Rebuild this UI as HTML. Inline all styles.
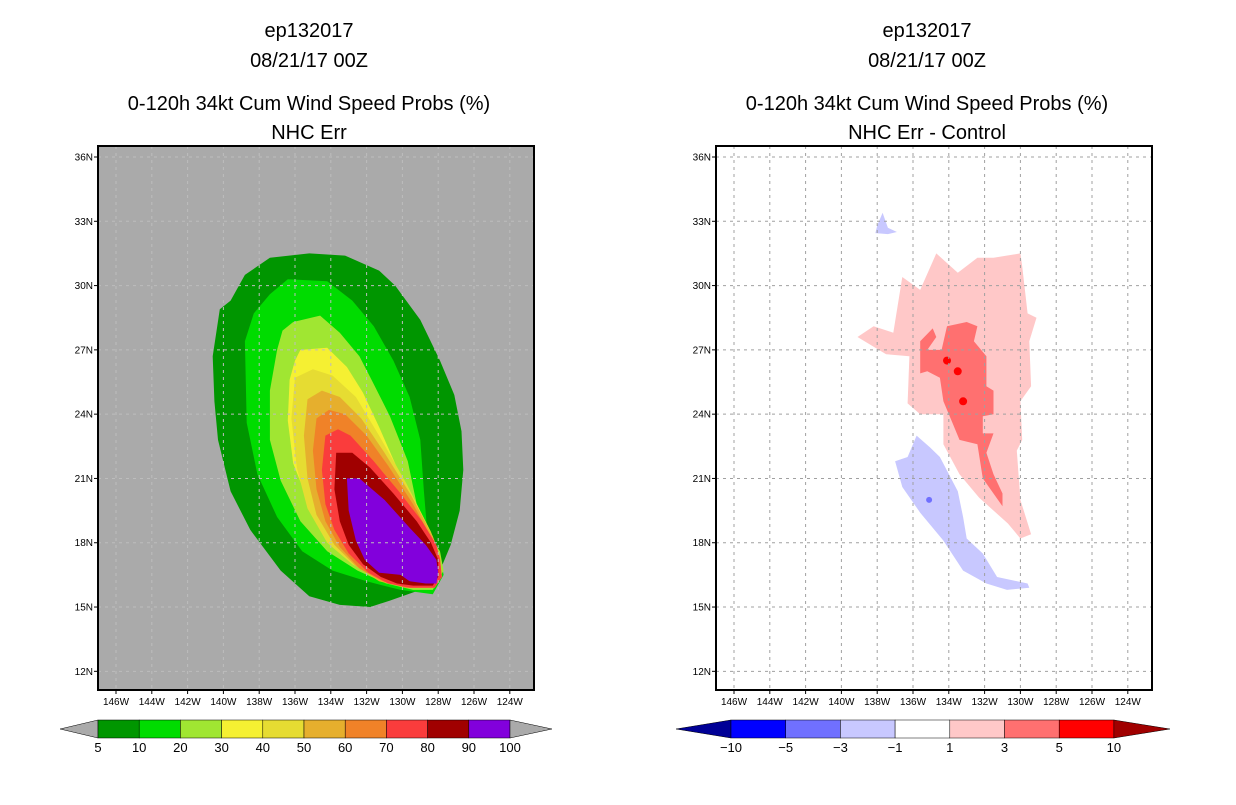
<!DOCTYPE html>
<html><head><meta charset="utf-8"><style>
body{margin:0;background:#fff;width:1236px;height:800px;overflow:hidden}
svg text{font-family:"Liberation Sans",sans-serif}
</style></head><body>
<svg id="s" width="1236" height="800">
<g font-size="20" text-anchor="middle" fill="#000">
<text x="309" y="37">ep132017</text><text x="309" y="67">08/21/17 00Z</text>
<text x="309" y="110">0-120h 34kt Cum Wind Speed Probs (%)</text><text x="309" y="139">NHC Err</text></g>
<g font-size="20" text-anchor="middle" fill="#000">
<text x="927" y="37">ep132017</text><text x="927" y="67">08/21/17 00Z</text>
<text x="927" y="110">0-120h 34kt Cum Wind Speed Probs (%)</text><text x="927" y="139">NHC Err - Control</text></g>
<g id="L"></g><g id="R"></g><g id="CB"></g>
</svg>
<script>
const latTicks=[36,33,30,27,24,21,18,15,12];
const lonTicks=[146,144,142,140,138,136,134,132,130,128,126,124];
const probLevels=[5,10,20,30,40,50,60,70,80,90,100];
const probColors=["#009600","#00dc00","#a0e632","#f5f032","#e6dc32","#e6af2d","#f08228","#fa3c3c","#a00000","#8200dc"];
const diffLevels=["-10","-5","-3","-1","1","3","5","10"];
const diffColors=["#000096","#0000ff","#7070ff","#c8c8ff","#ffffff","#ffc8c8","#ff7070","#ff0000","#a00000"];
const p5=[[-137.4,31.3],[-135.2,31.5],[-133.2,31.4],[-131.3,30.7],[-130.4,30.0],[-129.0,28.4],[-127.9,26.5],[-127.1,24.9],[-126.7,23.2],[-126.6,21.4],[-126.8,19.5],[-127.3,17.9],[-127.9,16.7],[-129.0,15.8],[-130.7,15.3],[-131.8,15.0],[-133.5,15.1],[-135.2,15.5],[-136.8,16.7],[-138.5,18.6],[-139.6,20.4],[-140.3,22.8],[-140.5,24.6],[-140.6,26.7],[-140.2,28.9],[-139.6,29.3],[-138.8,30.5]];
const p10=[[-136.4,30.3],[-134.2,30.2],[-132.8,29.3],[-131.6,28.1],[-130.5,26.5],[-129.6,24.8],[-129.0,22.8],[-128.8,20.4],[-128.6,18.4],[-127.9,17.5],[-127.7,16.5],[-128.3,15.6],[-130.1,15.8],[-132.0,16.2],[-133.9,16.7],[-135.6,17.6],[-137.0,19.2],[-138.1,21.2],[-138.7,23.6],[-138.8,27.4],[-138.3,28.7],[-137.4,29.6]];
const p20=[[-136.1,28.3],[-134.6,28.6],[-133.5,27.8],[-132.4,26.7],[-131.6,25.4],[-130.7,23.9],[-129.7,21.8],[-129.2,19.8],[-128.5,18.4],[-127.9,17.6],[-127.7,16.7],[-128.3,15.8],[-129.4,15.8],[-130.9,16.1],[-132.5,16.7],[-134.2,17.6],[-135.7,19.0],[-136.8,20.9],[-137.4,22.8],[-137.4,25.1],[-137.0,27.0],[-136.7,27.9]];
const p30=[[-135.7,27.0],[-134.2,27.1],[-133.1,26.2],[-132.2,25.0],[-131.3,23.4],[-130.3,21.5],[-129.4,19.6],[-128.5,18.2],[-127.9,17.3],[-127.8,16.4],[-128.3,15.9],[-129.4,15.9],[-130.9,16.4],[-132.4,17.2],[-133.9,18.2],[-135.2,19.8],[-136.1,21.7],[-136.4,23.7],[-136.3,25.6],[-136.0,26.5]];
const p40=[[-136.0,25.7],[-135.0,26.1],[-133.9,25.8],[-132.6,24.8],[-131.3,23.0],[-129.8,20.8],[-128.4,18.5],[-127.9,17.4],[-127.8,16.4],[-128.2,15.9],[-129.8,15.9],[-131.3,16.3],[-132.8,17.0],[-134.2,18.0],[-135.3,19.6],[-135.9,21.5],[-136.2,23.8]];
const p50=[[-135.3,24.7],[-134.5,25.1],[-133.5,24.8],[-132.3,23.8],[-131.0,22.2],[-129.5,20.2],[-128.3,18.3],[-127.9,17.4],[-127.8,16.4],[-128.2,15.9],[-129.8,15.9],[-131.3,16.2],[-132.6,16.9],[-133.8,17.9],[-134.8,19.3],[-135.3,21.0],[-135.5,23.0]];
const p60=[[-134.8,23.8],[-134.1,24.2],[-133.2,24.0],[-132.0,23.0],[-130.8,21.6],[-129.4,19.8],[-128.3,18.1],[-127.9,17.3],[-127.8,16.4],[-128.2,15.9],[-129.8,15.9],[-131.1,16.2],[-132.4,16.8],[-133.5,17.8],[-134.3,19.0],[-134.8,20.5],[-135.0,22.3]];
const p70=[[-134.3,23.0],[-133.6,23.3],[-132.9,23.0],[-131.6,21.8],[-130.2,20.4],[-128.9,19.0],[-128.1,17.9],[-127.9,17.2],[-127.8,16.4],[-128.2,15.9],[-129.6,15.9],[-130.8,16.1],[-131.9,16.6],[-133.0,17.5],[-133.8,18.6],[-134.3,19.8],[-134.5,21.4]];
const p80=[[-133.7,22.2],[-132.8,22.2],[-131.8,21.5],[-130.5,20.3],[-129.2,19.0],[-128.4,18.0],[-128.0,17.2],[-128.0,16.4],[-128.3,16.0],[-129.4,16.0],[-130.3,16.1],[-131.2,16.4],[-132.2,17.0],[-133.0,17.9],[-133.5,19.0],[-133.8,20.5]];
const p90=[[-133.1,21.0],[-132.4,21.0],[-131.0,20.0],[-129.6,18.7],[-128.7,17.9],[-128.1,17.2],[-128.0,16.6],[-128.1,16.1],[-128.7,16.1],[-129.6,16.2],[-130.1,16.5],[-131.3,16.6],[-132.1,17.2],[-132.6,18.1],[-133.0,19.5]];
const leftLayers=[p5,p10,p20,p30,p40,p50,p60,p70,p80,p90];
const dPink=[[-134.7,31.5],[-133.5,30.6],[-132.4,31.3],[-131.5,31.3],[-130.0,31.5],[-129.9,30.9],[-129.6,28.7],[-129.1,28.5],[-129.5,27.4],[-129.4,25.3],[-130.0,24.6],[-129.9,22.8],[-130.2,22.3],[-130.0,20.0],[-129.4,18.4],[-130.0,18.2],[-130.7,18.9],[-132.3,20.1],[-133.4,21.2],[-134.3,22.6],[-134.3,24.0],[-135.6,24.0],[-136.3,24.5],[-136.2,26.7],[-137.5,26.8],[-139.1,27.6],[-138.2,28.1],[-137.1,27.8],[-136.6,30.4],[-135.6,29.8]];
const dRed=[[-134.1,28.1],[-133.0,28.3],[-132.4,28.1],[-132.6,27.4],[-131.9,26.7],[-131.9,25.3],[-131.5,25.1],[-131.5,24.0],[-132.1,23.9],[-132.1,23.1],[-131.5,23.1],[-131.9,22.2],[-131.5,21.2],[-131.0,20.3],[-131.0,19.7],[-132.1,21.0],[-132.4,22.6],[-133.4,22.8],[-133.8,23.6],[-134.3,24.6],[-134.5,25.7],[-135.2,26.0],[-135.6,25.9],[-135.6,27.4],[-134.9,28.0],[-134.7,27.6],[-135.2,27.0],[-134.4,27.0]];
const dBlue=[[-135.8,23.0],[-135.05,22.45],[-134.5,22.0],[-133.5,20.4],[-133.2,19.2],[-133.0,18.2],[-132.1,17.5],[-131.3,16.4],[-129.6,16.1],[-129.5,15.9],[-130.75,15.8],[-131.9,16.1],[-133.2,16.7],[-134.3,18.1],[-135.6,19.4],[-136.6,20.6],[-137.0,21.8],[-136.3,22.0]];
const dBlueTop=[[-138.0,32.8],[-137.7,33.4],[-137.4,32.7],[-136.9,32.5],[-137.4,32.4],[-138.1,32.45]];
const dRedDots=[[-134.1,26.5],[-133.5,26.0],[-133.2,24.6]];
const dBlueDots=[[-135.1,20.0]];
const NS="http://www.w3.org/2000/svg";
function el(p,t,a){const e=document.createElementNS(NS,t);for(const k in a)e.setAttribute(k,a[k]);p.appendChild(e);return e;}
function mk(x0){return{x:lon=>x0+18+(lon+146)*17.9,y:lat=>157+(36-lat)*21.43};}
function poly(p,ax,pts,fill,name){const e=el(p,'polygon',{points:pts.map(q=>ax.x(q[0]).toFixed(1)+','+ax.y(q[1]).toFixed(1)).join(' '),fill:fill});

}
function frame(g,x0,bg,gridCol,ax){
 const r=el(g,'rect',{x:x0,y:146,width:436,height:544,fill:bg});
 
 
 return r;}
function axes(g,x0,ax,gridCol){
 latTicks.forEach(t=>{const y=ax.y(t);
  el(g,'line',{x1:x0,x2:x0+436,y1:y,y2:y,stroke:gridCol,'stroke-width':1,'stroke-dasharray':'3,4'});
  el(g,'line',{x1:x0-4,x2:x0,y1:y,y2:y,stroke:'#000'});
  const tx=el(g,'text',{x:x0-5,y:y+3.5,'font-size':10,'text-anchor':'end'});tx.textContent=t+'N';
  
  });
 lonTicks.forEach(t=>{const x=ax.x(-t);
  el(g,'line',{x1:x,x2:x,y1:146,y2:690,stroke:gridCol,'stroke-width':1,'stroke-dasharray':'3,4'});
  el(g,'line',{x1:x,x2:x,y1:690,y2:694,stroke:'#000'});
  const tx=el(g,'text',{x:x,y:705,'font-size':10,'text-anchor':'middle'});tx.textContent=t+'W';
  
  });
 el(g,'rect',{x:x0,y:146,width:436,height:544,fill:'none',stroke:'#000','stroke-width':2});}
// left
const L=document.getElementById('L');const axL=mk(98);
frame(L,98,'#aaaaaa','#c8c8c8',axL);
leftLayers.forEach((ly,i)=>poly(L,axL,ly,probColors[i],'prob-contour-'+probLevels[i]));
axes(L,98,axL,'#bdbdbd');
// right
const R=document.getElementById('R');const axR=mk(716);
frame(R,716,'#ffffff','#999',axR);
poly(R,axR,dPink,diffColors[5],'diff-contour-1-3');
poly(R,axR,dRed,diffColors[6],'diff-contour-3-5');
poly(R,axR,dBlue,diffColors[3],'diff-contour-neg1-neg3');
poly(R,axR,dBlueTop,diffColors[3],'diff-contour-neg1-neg3-north');
dRedDots.forEach(d=>{const e=el(R,'circle',{cx:axR.x(d[0]),cy:axR.y(d[1]),r:4,fill:diffColors[7]});
 
 });
dBlueDots.forEach(d=>{const e=el(R,'circle',{cx:axR.x(d[0]),cy:axR.y(d[1]),r:3,fill:diffColors[2]});
 
 });
axes(R,716,axR,'#a0a0a0');
// colorbars
const CB=document.getElementById('CB');
const w1=41.2;
let t=el(CB,'polygon',{points:'60,729 98,720 98,738',fill:'#aaaaaa',stroke:'#000','stroke-width':0.5});


probColors.forEach((c,i)=>{const r=el(CB,'rect',{x:98+i*w1,y:720,width:w1,height:18,fill:c,stroke:'#000','stroke-width':0.5});
 
 });
t=el(CB,'polygon',{points:(98+10*w1)+',720 552,729 '+(98+10*w1)+',738',fill:'#aaaaaa',stroke:'#000','stroke-width':0.5});


probLevels.forEach((v,i)=>{const tx=el(CB,'text',{x:98+i*w1,y:752,'font-size':13,'text-anchor':'middle'});tx.textContent=v;
 
 });
const w2=54.7,x2=731;
t=el(CB,'polygon',{points:'676,729 731,720 731,738',fill:diffColors[0],stroke:'#000','stroke-width':0.5});


for(let i=1;i<8;i++){const r=el(CB,'rect',{x:x2+(i-1)*w2,y:720,width:w2,height:18,fill:diffColors[i],stroke:'#000','stroke-width':0.5});
 
 }
t=el(CB,'polygon',{points:(x2+7*w2)+',720 1170,729 '+(x2+7*w2)+',738',fill:diffColors[8],stroke:'#000','stroke-width':0.5});


diffLevels.forEach((v,i)=>{const tx=el(CB,'text',{x:x2+i*w2,y:752,'font-size':13,'text-anchor':'middle'});tx.textContent=v.replace('-','\u2212');
 
 });
</script>
</body></html>
